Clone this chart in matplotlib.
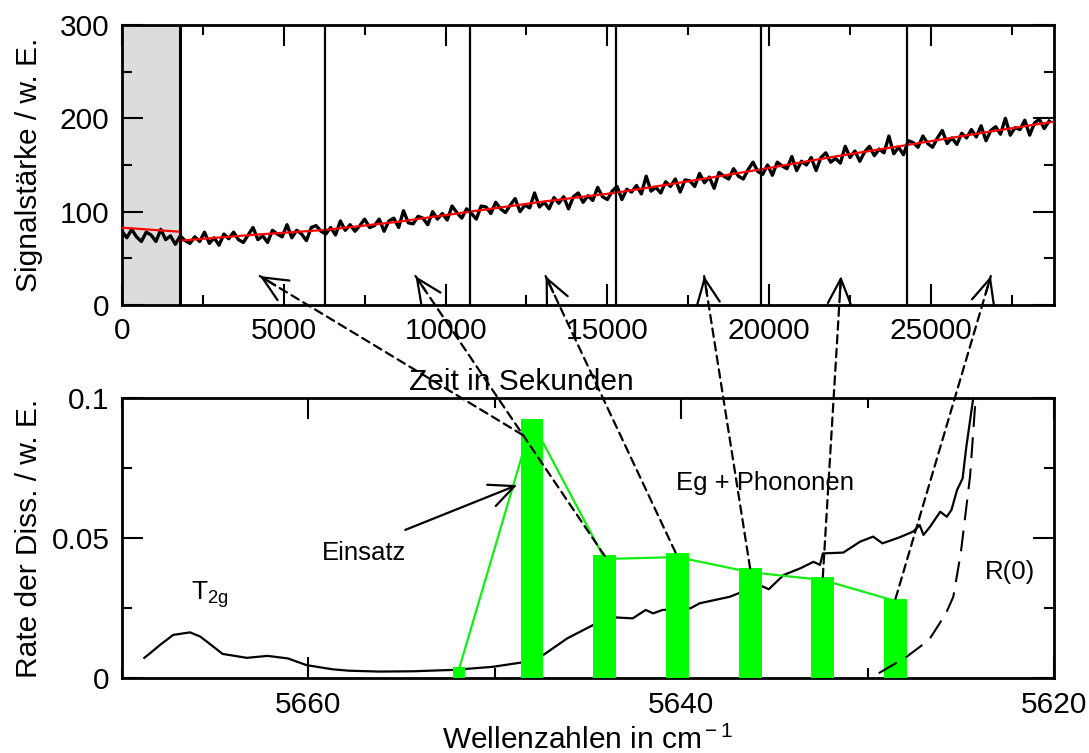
import numpy as np
import matplotlib

matplotlib.use('Agg')
import matplotlib.pyplot as plt
from matplotlib.patches import ConnectionPatch
from matplotlib.ticker import MultipleLocator, FuncFormatter

plt.rcParams['font.family'] = ['Liberation Sans', 'DejaVu Sans']
plt.rcParams['mathtext.fontset'] = 'custom'
plt.rcParams['mathtext.rm'] = 'Liberation Sans'
plt.rcParams['mathtext.it'] = 'Liberation Sans:italic'

# --- top panel: signal vs time ---
t_signal = np.arange(0, 28800, 150)
signal = [79, 72, 81, 73, 68, 78, 75, 68, 81, 70, 74, 65, 74, 69, 66, 73,
          68, 78, 66, 72, 64, 76, 71, 78, 70, 67, 75, 83, 70, 74, 67, 80,
          76, 73, 86, 72, 80, 76, 69, 83, 85, 79, 76, 83, 75, 90, 80, 86,
          79, 85, 92, 83, 85, 92, 79, 90, 93, 83, 101, 88, 87, 95, 93, 86,
          100, 92, 98, 91, 106, 99, 93, 103, 98, 92, 106, 105, 98, 110, 103, 99,
          107, 114, 100, 107, 104, 120, 105, 110, 103, 115, 109, 116, 103, 116, 120, 110,
          117, 112, 126, 116, 113, 122, 127, 113, 124, 121, 128, 119, 138, 122, 126, 120,
          132, 127, 135, 121, 134, 133, 127, 141, 131, 137, 125, 142, 138, 135, 146, 138,
          135, 145, 153, 143, 140, 150, 139, 153, 149, 146, 159, 144, 154, 150, 158, 144,
          158, 163, 153, 157, 152, 170, 158, 165, 154, 164, 170, 160, 167, 163, 181, 162,
          169, 161, 176, 174, 169, 181, 173, 169, 179, 187, 173, 179, 172, 184, 179, 188,
          180, 192, 176, 187, 191, 183, 200, 182, 190, 188, 198, 182, 195, 199, 189, 197]

fit_pre_t = [0, 1780]
fit_pre = [82.8, 78.5]
fit_t = [1780, 4000, 6270, 8500, 10760, 13000, 15270, 17500, 19760, 22000, 24260, 26500, 28800]
fit = [68.9, 75, 80.4, 89, 100, 110.7, 120.3, 132.5, 145.4, 158.9, 171.4, 184, 196.4]

cuts = [1780, 6270, 10760, 15270, 19760, 24270]
arrow_tip_t = [4260, 9070, 13090, 17990, 22220, 26850]
arrow_tip_y = 31

# --- bottom panel: dissociation rate vs wavenumber ---
spec_wn = [5668.8, 5668.5, 5667.96, 5667.25, 5666.35, 5665.8, 5665.1, 5664.6, 5663.3,
           5662.2, 5661.1, 5660.1, 5658.7, 5657.8, 5656.2, 5654.4, 5652.2, 5650.1,
           5648.6, 5647.4, 5646.1, 5644.7, 5643.7, 5642.6, 5641.9, 5641.5, 5641.0,
           5639.5, 5639.0, 5637.4, 5635.8, 5635.3, 5634.5, 5633.6, 5632.9, 5632.55,
           5632.4, 5631.3, 5630.4, 5629.7, 5629.2, 5628.3, 5627.55, 5627.2, 5627.0,
           5626.65, 5626.1, 5625.75, 5625.5, 5625.2, 5624.9, 5624.7, 5624.33, 5624.2]
spec_rate = [0.0072, 0.0088, 0.0118, 0.0154, 0.0163, 0.0148, 0.0112, 0.0086, 0.0072,
             0.0079, 0.0070, 0.0046, 0.0031, 0.0026, 0.0023, 0.0024, 0.0029, 0.0040,
             0.0055, 0.0082, 0.0142, 0.0190, 0.0217, 0.0213, 0.0243, 0.0231, 0.0243,
             0.0249, 0.0267, 0.0290, 0.0332, 0.0317, 0.0368, 0.0392, 0.0415, 0.0404,
             0.0445, 0.0448, 0.0487, 0.0505, 0.0481, 0.0502, 0.0523, 0.0546, 0.0511,
             0.0540, 0.0594, 0.0576, 0.0600, 0.0671, 0.0713, 0.0826, 0.0999, 0.1065]

r0_wn = [5629.4, 5627.9, 5626.7, 5625.8, 5625.4, 5625.0, 5624.7, 5624.5, 5624.35, 5624.2]
r0_rate = [0.0017, 0.0076, 0.0136, 0.0230, 0.0290, 0.0445, 0.0610, 0.0720, 0.0860, 0.1000]

bar_wn = [5651.9, 5648.0, 5644.1, 5640.2, 5636.3, 5632.4, 5628.5]
bar_rate = [0.0038, 0.0924, 0.0439, 0.0446, 0.0392, 0.0360, 0.0283]
bar_width = [0.65, 1.23, 1.23, 1.23, 1.23, 1.23, 1.23]
line_rate = [0.0036, 0.0915, 0.0425, 0.0432, 0.0378, 0.0350, 0.0275]

# lower ends of the dashed arrows (bottom panel data)
arrow_base_wn = [5648.5, 5644.1, 5640.3, 5636.3, 5632.4, 5628.5]
arrow_base_rate = [0.0868, 0.0436, 0.0448, 0.0392, 0.0360, 0.0283]

TICK_FS = 21.5
LABEL_FS = 21.5
NOTE_FS = 18.5
HEAD = '->,head_length=1.2,head_width=0.55'


def style_axes(ax):
    for sp in ax.spines.values():
        sp.set_linewidth(2)
    ax.tick_params(which='both', direction='in', top=True, right=True,
                   width=1.5, labelsize=TICK_FS)
    ax.tick_params(which='major', length=15, pad=9)
    ax.tick_params(which='minor', length=7)


fig = plt.figure(figsize=(10.89, 7.53), dpi=100)
ax1 = fig.add_axes([0.1120, 0.5950, 0.8558, 0.3718])
ax2 = fig.add_axes([0.1120, 0.0996, 0.8558, 0.3718])

# top panel
ax1.axvspan(0, cuts[0], color='#dcdcdc', zorder=0, lw=0)
ax1.plot(t_signal, signal, color='black', lw=2.4, zorder=2)
ax1.plot(fit_pre_t, fit_pre, color='red', lw=1.6, zorder=3)
ax1.plot(fit_t, fit, color='red', lw=1.6, zorder=3)
for i, c in enumerate(cuts):
    ax1.axvline(c, color='black', lw=2.2 if i == 0 else 1.6, zorder=4)
ax1.set_xlim(0, 28800)
ax1.set_ylim(0, 300)
ax1.xaxis.set_major_locator(MultipleLocator(5000))
ax1.xaxis.set_minor_locator(MultipleLocator(2500))
ax1.yaxis.set_major_locator(MultipleLocator(100))
ax1.yaxis.set_minor_locator(MultipleLocator(50))
style_axes(ax1)
ax1.set_ylabel('Signalstärke / w. E.', fontsize=LABEL_FS)
ax1.yaxis.set_label_coords(-0.085, 0.5)
ax1.set_xlabel('Zeit in Sekunden', fontsize=LABEL_FS)
ax1.xaxis.set_label_coords(0.429, -0.225)

# bottom panel
ax2.plot(spec_wn, spec_rate, color='black', lw=1.6, zorder=1)
ax2.plot(bar_wn, line_rate, color='#11ee11', lw=1.6, zorder=2)
ax2.bar(bar_wn, bar_rate, width=bar_width, color='#00ff00', zorder=3, lw=0)
ax2.plot(r0_wn, r0_rate, color='black', lw=1.5, dashes=(10, 5), zorder=4)
ax2.set_xlim(5670, 5620)
ax2.set_ylim(0, 0.1)
ax2.xaxis.set_major_locator(MultipleLocator(20))
ax2.xaxis.set_minor_locator(MultipleLocator(10))
ax2.yaxis.set_major_locator(MultipleLocator(0.05))
ax2.yaxis.set_minor_locator(MultipleLocator(0.025))
ax2.yaxis.set_major_formatter(FuncFormatter(lambda v, p: '%g' % round(v, 4)))
style_axes(ax2)
ax2.set_ylabel('Rate der Diss. / w. E.', fontsize=LABEL_FS)
ax2.yaxis.set_label_coords(-0.085, 0.5)
ax2.set_xlabel(r'Wellenzahlen in cm$^{\rm -1}$', fontsize=LABEL_FS, labelpad=5)

ax2.text(5666.3, 0.0279, r'T$_{\rm 2g}$', fontsize=19)
ax2.text(5657.0, 0.0446, 'Einsatz', fontsize=NOTE_FS, ha='center', va='center')
ax2.text(5640.3, 0.0696, 'Eg + Phononen', fontsize=NOTE_FS, ha='left', va='center')
ax2.text(5623.7, 0.0379, 'R(0)', fontsize=NOTE_FS, ha='left', va='center')
ax2.annotate('', xy=(5648.8, 0.0689), xytext=(5654.8, 0.0529),
             arrowprops=dict(arrowstyle=HEAD, mutation_scale=15, lw=1.6,
                             color='black', shrinkA=0, shrinkB=0), zorder=5)

# dashed connectors from the bars up to the time windows
head_len = 18
for bw, br, tt in zip(arrow_base_wn, arrow_base_rate, arrow_tip_t):
    con = ConnectionPatch(xyA=(bw, br), coordsA=ax2.transData,
                          xyB=(tt, arrow_tip_y), coordsB=ax1.transData,
                          color='black', lw=1.6, linestyle=(0, (3.8, 2.4)),
                          zorder=6)
    fig.add_artist(con)
    pa = ax2.transData.transform((bw, br))
    pb = ax1.transData.transform((tt, arrow_tip_y))
    d = (pb - pa) / np.hypot(*(pb - pa))
    ax1.annotate('', xy=(tt, arrow_tip_y), xytext=(-d[0] * head_len, -d[1] * head_len),
                 textcoords='offset pixels',
                 arrowprops=dict(arrowstyle=HEAD, mutation_scale=15, lw=1.6,
                                 color='black', shrinkA=0, shrinkB=0))

fig.savefig('out.png', dpi=100)
plt.close(fig)
